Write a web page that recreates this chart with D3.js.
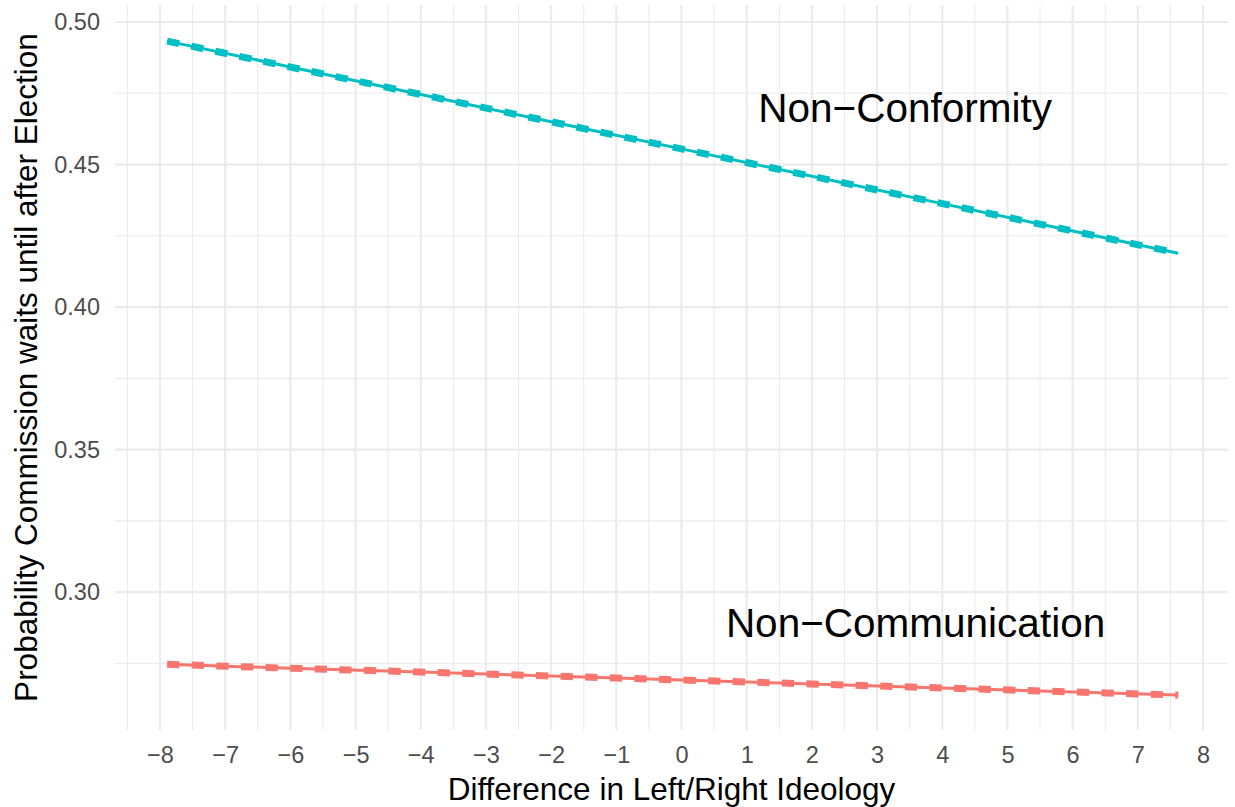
<!DOCTYPE html>
<html>
<head>
<meta charset="utf-8">
<script src="https://cdn.jsdelivr.net/npm/d3@7"></script>
<style>
  html, body { margin: 0; padding: 0; background: #ffffff; }
  svg { display: block; font-family: "Liberation Sans", Arial, sans-serif; }
</style>
</head>
<body>
<svg id="chart" width="1235" height="807"></svg>
<script>
'use strict';

// ── Data ────────────────────────────────────────────────────────────────────
const xValues        = [-7.89, -6, -4, -2, 0, 2, 4, 6, 7.62];
const conformity     = [0.4933, 0.4842, 0.4746, 0.4650, 0.4555, 0.4459, 0.4363, 0.4267, 0.4189];
const communication  = [0.2747, 0.2733, 0.2720, 0.2706, 0.2692, 0.2678, 0.2664, 0.2650, 0.2639];

const seriesNames  = ['Non\u2212Communication', 'Non\u2212Conformity'];
const seriesColors = ['#F8766D', '#00BFC4'];
const labelX       = [3.59, 3.43];
const labelY       = [0.2842, 0.4649];

const xTicks = d3.range(-8, 9, 1);
const xMinor = d3.range(-8.5, 8, 1);
const yTicks = [0.30, 0.35, 0.40, 0.45, 0.50];
const yMinor = [0.275, 0.325, 0.375, 0.425, 0.475];

const fmtX = d => (d < 0 ? '\u2212' + Math.abs(d) : String(d));
const fmtY = d3.format('.2f');

// ── Layout ─────────────────────────────────────────────────────────────────
const panel = { left: 115, right: 1228, top: 5, bottom: 730 };

const x = d3.scaleLinear().domain([-8.69, 8.383]).range([panel.left, panel.right]);
const y = d3.scaleLinear().domain([0.25165, 0.50597]).range([panel.bottom, panel.top]);

const svg = d3.select('#chart');

// ── Grid ───────────────────────────────────────────────────────────────────
const grid = svg.append('g');

grid.selectAll('.xminor').data(xMinor).join('line')
  .attr('x1', d => x(d)).attr('x2', d => x(d))
  .attr('y1', panel.top).attr('y2', panel.bottom)
  .attr('stroke', '#EBEBEB').attr('stroke-width', 1.1);

grid.selectAll('.yminor').data(yMinor).join('line')
  .attr('y1', d => y(d)).attr('y2', d => y(d))
  .attr('x1', panel.left).attr('x2', panel.right)
  .attr('stroke', '#EBEBEB').attr('stroke-width', 1.1);

grid.selectAll('.xmajor').data(xTicks).join('line')
  .attr('x1', d => x(d)).attr('x2', d => x(d))
  .attr('y1', panel.top).attr('y2', panel.bottom)
  .attr('stroke', '#EBEBEB').attr('stroke-width', 2.2);

grid.selectAll('.ymajor').data(yTicks).join('line')
  .attr('y1', d => y(d)).attr('y2', d => y(d))
  .attr('x1', panel.left).attr('x2', panel.right)
  .attr('stroke', '#EBEBEB').attr('stroke-width', 2.2);

// ── Lines ──────────────────────────────────────────────────────────────────
const line = d3.line().x(d => x(d[0])).y(d => y(d[1]));
const series = [communication, conformity].map(vals => xValues.map((xv, i) => [xv, vals[i]]));

series.forEach((pts, i) => {
  svg.append('path').datum(pts)
    .attr('fill', 'none').attr('stroke', seriesColors[i])
    .attr('stroke-width', 3).attr('d', line);
  svg.append('path').datum(pts)
    .attr('fill', 'none').attr('stroke', seriesColors[i])
    .attr('stroke-width', 7).attr('stroke-dasharray', '12.3,12.3')
    .attr('d', line);
});

// ── Annotations ────────────────────────────────────────────────────────────
svg.selectAll('.series-label').data(seriesNames).join('text')
  .attr('x', (d, i) => x(labelX[i]))
  .attr('y', (d, i) => y(labelY[i]))
  .attr('text-anchor', 'middle')
  .attr('font-size', '40.5px')
  .attr('fill', '#000000')
  .text(d => d);

// ── Axes ───────────────────────────────────────────────────────────────────
const xAxis = svg.append('g')
  .attr('transform', `translate(0,${panel.bottom})`)
  .call(d3.axisBottom(x).tickValues(xTicks).tickFormat(fmtX).tickSize(0).tickPadding(16));
xAxis.select('.domain').remove();
xAxis.selectAll('text')
  .attr('font-size', '23.5px').attr('fill', '#4D4D4D')
  .attr('font-family', '"Liberation Sans", Arial, sans-serif');

const yAxis = svg.append('g')
  .attr('transform', `translate(${panel.left},0)`)
  .call(d3.axisLeft(y).tickValues(yTicks).tickFormat(fmtY).tickSize(0).tickPadding(15));
yAxis.select('.domain').remove();
yAxis.selectAll('text')
  .attr('font-size', '23.5px').attr('fill', '#4D4D4D')
  .attr('font-family', '"Liberation Sans", Arial, sans-serif');

// Axis titles
svg.append('text')
  .attr('x', (panel.left + panel.right) / 2)
  .attr('y', 800)
  .attr('text-anchor', 'middle')
  .attr('font-size', '31.5px')
  .attr('fill', '#000000')
  .text('Difference in Left/Right Ideology');

svg.append('text')
  .attr('transform', `translate(37,${(panel.top + panel.bottom) / 2}) rotate(-90)`)
  .attr('text-anchor', 'middle')
  .attr('font-size', '31.5px')
  .attr('fill', '#000000')
  .text('Probability Commission waits until after Election');
</script>
</body>
</html>
